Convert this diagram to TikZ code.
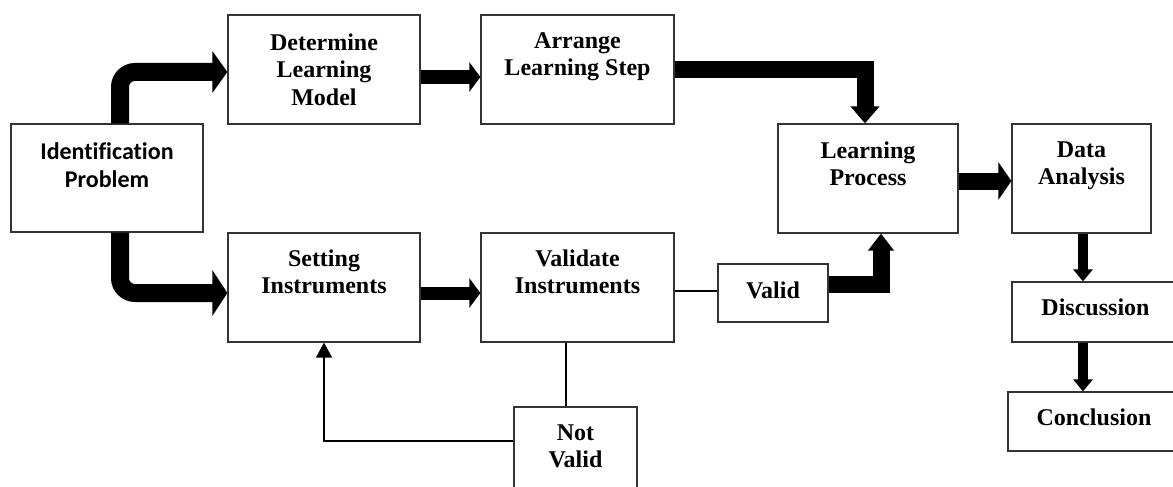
\documentclass[tikz,border=0pt]{standalone}
\usepackage{fontspec}
\setmainfont{Liberation Serif}
\newfontfamily\calibri[Ligatures=CommonOff]{Carlito}
\usetikzlibrary{arrows.meta,calc}
\begin{document}
\begin{tikzpicture}[x=1pt,y=-1pt,
  box/.style={draw=black!80, line width=1.2pt, rectangle, inner sep=0pt},
  lbl/.style={anchor=north, align=center, inner sep=0pt, font=\fontsize{24}{27.5}\selectfont\bfseries},
  thin/.style={draw=black, line width=1.3pt},
  fat/.style={draw=black, line join=miter}]
\useasboundingbox (0,0) rectangle (1173,487);
\clip (0,0) rectangle (1173,487);
% boxes
\node[box, minimum width=192pt, minimum height=108pt] (idp) at (107,178) {};
\node[box, minimum width=192pt, minimum height=109pt] (dlm) at (324,69.5) {};
\node[box, minimum width=193pt, minimum height=109pt] (als) at (577.5,69.5) {};
\node[box, minimum width=180pt, minimum height=109pt] (lp) at (868,178.5) {};
\node[box, minimum width=139pt, minimum height=109pt] (da) at (1081.5,178.5) {};
\node[box, minimum width=167pt, minimum height=60pt] (disc) at (1095.5,312) {};
\node[box, minimum width=172pt, minimum height=59pt] (conc) at (1094,421.5) {};
\node[box, minimum width=192pt, minimum height=109pt] (si) at (324,287.5) {};
\node[box, minimum width=193pt, minimum height=109pt] (vi) at (577.5,287.5) {};
\node[box, minimum width=110pt, minimum height=58pt] (valid) at (773,293) {};
\node[box, minimum width=123pt, minimum height=107pt] (nv) at (575.5,460.5) {};
% texts
\node[lbl, font=\calibri\fontsize{24}{28}\selectfont\bfseries] (idpT) at ([yshift=-19pt]idp.north) {Identification\\Problem};
\node[lbl] (dlmT) at ([yshift=-19pt]dlm.north) {Determine\\Learning\\Model};
\node[lbl] (alsT) at ([yshift=-18pt]als.north) {Arrange\\Learning Step};
\node[lbl] (lpT) at ([yshift=-18pt]lp.north) {Learning\\Process};
\node[lbl] (daT) at ([yshift=-18pt]da.north) {Data\\Analysis};
\node[lbl] (discT) at ([yshift=-17pt]disc.north) {Discussion};
\node[lbl] (concT) at ([yshift=-17pt]conc.north) {Conclusion};
\node[lbl] (siT) at ([yshift=-17pt]si.north) {Setting\\Instruments};
\node[lbl] (viT) at ([yshift=-17pt]vi.north) {Validate\\Instruments};
\node[lbl] (validT) at ([yshift=-18pt]valid.north) {Valid};
\node[lbl] (nvT) at ([yshift=-18pt]nv.north) {Not\\Valid};
% thick arrows
\draw[fat, line width=18pt, rounded corners=15pt, -{Triangle[width=41pt,length=15pt]}]
  ([xshift=13pt]idp.north) |- ([yshift=-2.5pt]dlm.west);
\draw[fat, line width=18pt, rounded corners=15pt, -{Triangle[width=45pt,length=15pt]}]
  ([xshift=13pt]idp.south) |- ([yshift=-5.5pt]si.west);
\draw[fat, line width=14pt, -{Triangle[width=29pt,length=11pt]}]
  ([yshift=-7.5pt]dlm.east) -- ([yshift=-7.5pt]als.west);
\draw[fat, line width=13pt, -{Triangle[width=29pt,length=11pt]}]
  ([yshift=-5.5pt]si.east) -- ([yshift=-5.5pt]vi.west);
\draw[fat, line width=17pt, -{Triangle[width=28pt,length=17pt]}]
  (als.east) -| ([xshift=-3pt]lp.north);
\draw[fat, line width=17pt, -{Triangle[width=37pt,length=13pt]}]
  ([yshift=-2.5pt]lp.east) -- ([yshift=-2.5pt]da.west);
\draw[fat, line width=10pt, -{Triangle[width=19pt,length=12pt]}]
  ([xshift=1.5pt]da.south) -- ([xshift=1.5pt]da.south |- disc.north);
\draw[fat, line width=10pt, -{Triangle[width=19pt,length=12pt]}]
  ([xshift=1.5pt]da.south |- disc.south) -- ([xshift=1.5pt]da.south |- conc.north);
\draw[fat, line width=17pt, -{Triangle[width=25pt,length=17pt]}]
  ([yshift=9pt]valid.east) -| ([xshift=13pt]lp.south);
% thin connectors
\draw[thin] ([yshift=2pt]valid.west -| vi.east) -- ([yshift=2pt]valid.west);
\draw[thin] ([xshift=-11.5pt]vi.south) -- ([xshift=-11.5pt]vi.south |- nv.north);
\draw[thin, -{Triangle[width=16pt,length=15pt]}] ([yshift=19.5pt]nv.west) -| (si.south);
\end{tikzpicture}
\end{document}
